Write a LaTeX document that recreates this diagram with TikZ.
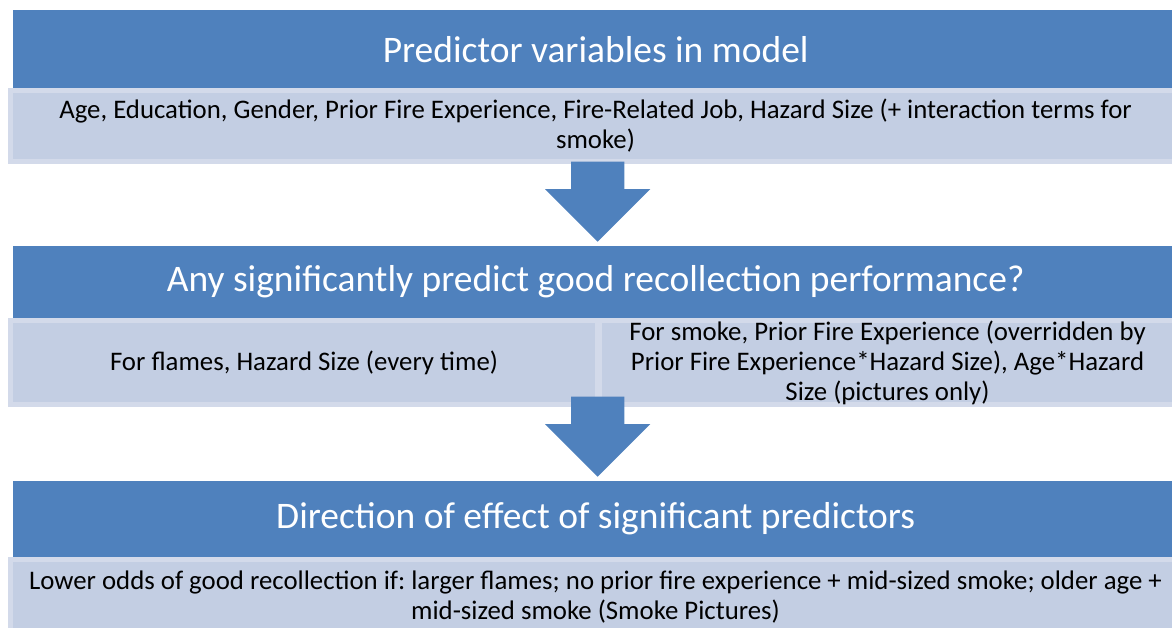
\documentclass[tikz,border=0pt]{standalone}
\usepackage{fontspec}
\setmainfont{Carlito}
\frenchspacing
\usetikzlibrary{shapes.arrows}
\definecolor{headblue}{HTML}{4F81BD}
\definecolor{bodyfill}{HTML}{C3CEE3}
\definecolor{bodyband}{HTML}{D3DAEA}

\begin{document}
\begin{tikzpicture}[x=1pt, y=-1pt,
  header/.style={fill=headblue, text=white, font=\fontsize{37.5}{44}\selectfont,
    anchor=north west, inner sep=0pt, minimum width=1165pt},
  panel/.style={fill=bodyfill, draw=bodyband, line width=5pt, anchor=north west,
    inner sep=0pt, align=center, font=\fontsize{26.8}{30}\selectfont},
  flowarrow/.style={single arrow, fill=headblue, draw=none, rotate=-90, inner sep=26.5pt,
    single arrow head extend=26pt, single arrow tip angle=90, anchor=tip}]

  \useasboundingbox (0,0) rectangle (1172,628);

  %% Step 1: predictors
  \node[header, minimum height=78pt] (head1) at (13,10) {Predictor variables in model};
  \node[panel, minimum width=1170pt, minimum height=71pt] (body1) at (8,88)
    {Age, Education, Gender, Prior Fire Experience, Fire-Related Job, Hazard Size (+ interaction terms for\\ smoke)};

  %% Step 2: significant predictors
  \node[header, minimum height=72pt] (head2) at (13,246) {Any significantly predict good recollection performance?};
  \node[flowarrow, minimum height=78pt] (arrow1) at ([xshift=2pt, yshift=4pt]head2.north) {};
  \node[panel, minimum width=587pt, minimum height=84pt] (body2a) at (8,318)
    {For flames, Hazard Size (every time)};
  \node[panel, minimum width=576pt, minimum height=84pt] (body2b) at (597,318)
    {For smoke, Prior Fire Experience (overridden by\\ Prior Fire Experience*Hazard Size), Age*Hazard\\ Size (pictures only)};

  %% Step 3: direction of effect
  \node[header, minimum height=76pt] (head3) at (13,481) {Direction of effect of significant predictors};
  \node[flowarrow, minimum height=70pt] (arrow2) at ([xshift=2pt, yshift=4pt]head3.north) {};
  \node[panel, minimum width=1170pt, minimum height=75pt] (body3) at (8,557)
    {Lower odds of good recollection if: larger flames; no prior fire experience + mid-sized smoke; older age +\\ mid-sized smoke (Smoke Pictures)};
\end{tikzpicture}
\end{document}
